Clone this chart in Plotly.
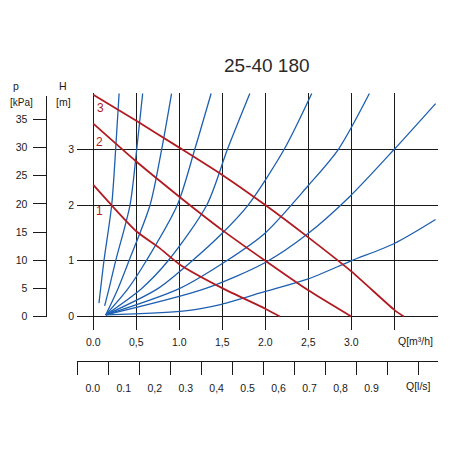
import plotly.graph_objects as go

# pump curves, speed steps 1..3 : Q [m3/h] -> H [m]
pump_q = {
    "1": [0.0, 0.21, 0.5, 0.76, 1.0, 1.5, 2.0, 2.17],
    "2": [0.0, 0.5, 1.0, 1.5, 2.0, 2.5, 3.0],
    "3": [0.0, 0.5, 1.0, 1.5, 2.0, 2.5, 3.0, 3.5, 3.61],
}
pump_h = {
    "1": [2.36, 2.0, 1.53, 1.24, 0.94, 0.51, 0.14, 0.0],
    "2": [3.46, 2.78, 2.15, 1.55, 1.0, 0.47, 0.0],
    "3": [3.98, 3.51, 3.03, 2.54, 2.0, 1.42, 0.81, 0.12, 0.0],
}

# system curves (blue)
sys_q = [
    [0.066, 0.124, 0.214, 0.26, 0.30],
    [0.132, 0.183, 0.26, 0.427, 0.505, 0.574],
    [0.145, 0.287, 0.415, 0.66, 0.795, 0.91],
    [0.145, 0.404, 0.616, 0.977, 1.18, 1.37],
    [0.145, 0.56, 0.87, 1.32, 1.56, 1.82],
    [0.145, 0.75, 1.15, 1.49, 1.80, 2.22, 2.54],
    [0.145, 1.0, 1.55, 2.0, 2.5, 2.85, 3.21],
    [0.145, 1.3, 2.0, 2.49, 2.98, 3.5, 3.98],
    [0.145, 1.066, 1.49, 2.0, 2.49, 3.0, 3.5, 3.98],
]
sys_h = [
    [0.24, 1.0, 2.0, 3.0, 4.0],
    [0.19, 0.5, 1.0, 2.0, 3.0, 4.0],
    [0.03, 0.5, 1.0, 2.0, 3.0, 4.0],
    [0.03, 0.5, 1.0, 2.0, 3.0, 4.0],
    [0.03, 0.5, 1.0, 2.0, 3.0, 4.0],
    [0.03, 0.5, 1.0, 1.48, 2.0, 3.0, 4.0],
    [0.03, 0.5, 1.0, 1.5, 2.35, 3.0, 4.0],
    [0.03, 0.5, 0.97, 1.48, 2.15, 3.0, 3.82],
    [0.03, 0.1, 0.22, 0.45, 0.67, 1.0, 1.31, 1.74],
]

q_ticks = [0.0, 0.5, 1.0, 1.5, 2.0, 2.5, 3.0, 3.5, 4.0]
q_labels = ["0.0", "0,5", "1.0", "1,5", "2.0", "2,5", "3.0", "", ""]
h_ticks = [0, 1, 2, 3, 4]
h_labels = ["0", "1", "2", "3", ""]
p_ticks = [0, 5, 10, 15, 20, 25, 30, 35]
ls_ticks = [-0.05, 0.05, 0.15, 0.25, 0.35, 0.45, 0.55, 0.65, 0.75, 0.85, 0.95, 1.05]
ls_labels = ["0.0", "0.1", "0,2", "0.3", "0,4", "0.5", "0,6", "0.7", "0,8", "0.9", "", ""]

W = 450
OFF_X, OFF_Y = 8, 4  # where the figure ends up inside the window
BLUE = "#1d5fb0"
RED = "#b01c22"
INK = "#1a1a1a"
FONT = "Liberation Sans, Arial, sans-serif"


def pxx(x):
    return max(0, (x - OFF_X) / W)


def pxy(y):
    return 1 - (y - OFF_Y) / W


fig = go.Figure()

for q, h in zip(sys_q, sys_h):
    fig.add_trace(go.Scatter(x=q, y=h, mode="lines", line=dict(color=BLUE, width=1.3, shape="spline", smoothing=0.8),
                             showlegend=False, hoverinfo="skip"))
for k in pump_q:
    fig.add_trace(go.Scatter(x=pump_q[k], y=pump_h[k], mode="lines", line=dict(color=RED, width=1.8, shape="spline", smoothing=0.6),
                             showlegend=False, hoverinfo="skip"))

# dummy trace so the kPa / l/s axes get drawn
fig.add_trace(go.Scatter(x=[None], y=[None], xaxis="x2", yaxis="y2", showlegend=False, hoverinfo="skip"))

x_dom = [pxx(77), pxx(438)]
fig.update_layout(
    width=W, height=W, autosize=False,
    margin=dict(l=0, r=0, t=0, b=0),
    paper_bgcolor="white", plot_bgcolor="rgba(0,0,0,0)",
    font=dict(family=FONT, size=10.5, color=INK),
    xaxis=dict(domain=x_dom, range=[(77 - 93.3) / 86, (438 - 93.3) / 86],
               tickmode="array", tickvals=q_ticks, ticktext=q_labels,
               showgrid=True, gridcolor=INK, gridwidth=1.4, zeroline=False, showline=False,
               ticks="", ticklabelstandoff=5, fixedrange=True),
    yaxis=dict(domain=[pxy(330), pxy(90.13)], range=[(316.7 - 330) / 56.5, 4.01],
               tickmode="array", tickvals=h_ticks, ticktext=h_labels,
               showgrid=True, gridcolor=INK, gridwidth=1.4, zeroline=False, showline=False,
               ticks="", ticklabelstandoff=2, fixedrange=True),
    xaxis2=dict(domain=x_dom, anchor="free", position=pxy(361.7),
                range=[(77 - 93.3) / 86 / 3.6, (438 - 93.3) / 86 / 3.6],
                tickmode="array", tickvals=ls_ticks, ticktext=ls_labels, ticklabelshift=15,
                showline=True, linecolor=INK, linewidth=1.4, ticks="outside", ticklen=13,
                tickwidth=1.4, tickcolor=INK, showgrid=False, zeroline=False,
                ticklabelstandoff=4, fixedrange=True),
    yaxis2=dict(domain=[pxy(316.7), pxy(92.7)], anchor="free", position=pxx(45.7), side="left",
                range=[0, (316.7 - 92.7) / 56.5 * 9.9],
                tickmode="array", tickvals=p_ticks,
                showline=True, linecolor=INK, linewidth=1.4, ticks="outside", ticklen=13,
                tickwidth=1.4, tickcolor=INK, showgrid=False, zeroline=False,
                ticklabelstandoff=3, fixedrange=True),
)

notes = [
    ("25-40 180", 267, 62, "center", 19, "#2a2a2a"),
    ("p", 15.7, 83.3, "center", 10.5, INK),
    ("[kPa]", 8, 99.3, "left", 10, INK),
    ("H", 63, 83.3, "center", 10.5, INK),
    ("[m]", 63, 99.3, "center", 10.5, INK),
    ("Q[m³/h]", 435, 341.7, "right", 10.5, INK),
    ("Q[l/s]", 433, 387.3, "right", 10.5, INK),
    ("3", 100, 105.7, "center", 12, RED),
    ("2", 99.3, 140, "center", 12, RED),
    ("1", 99.3, 210, "center", 12, RED),
]
for text, x, y, anchor, size, color in notes:
    fig.add_annotation(text=text, x=pxx(x), y=pxy(y), xref="paper", yref="paper", xanchor=anchor, yanchor="middle",
                       showarrow=False, font=dict(size=size, color=color, family=FONT))

fig.write_html("out.html")
